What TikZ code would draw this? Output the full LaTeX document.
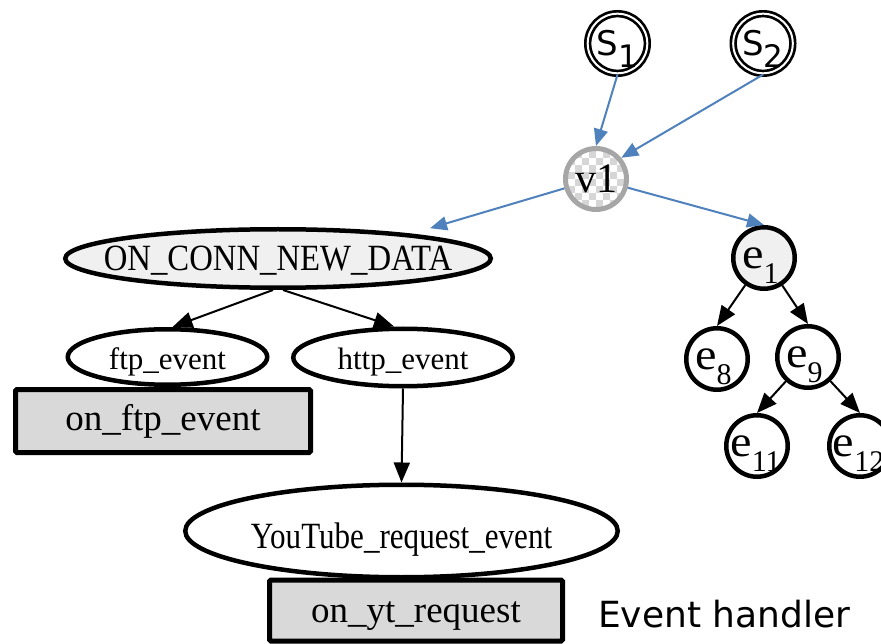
\documentclass[tikz,border=0pt]{standalone}
\usepackage{fontspec}
\setmainfont{Liberation Serif}
\newfontfamily\labelsans{DejaVu Sans}
\usepackage{graphicx}
\usetikzlibrary{arrows.meta,shapes.geometric}

\definecolor{linkblue}{HTML}{4F81BD}
\definecolor{lightfill}{HTML}{F0F0F0}
\definecolor{handlerfill}{HTML}{D9D9D9}
\definecolor{ringgray}{HTML}{A6A6A6}
\definecolor{checkgray}{HTML}{D6D6D6}

% event-tree labels: "e" with a lowered index
\newcommand\evlabel[2][7pt]{\scalebox{1.1}[1]{e}\smash{\raisebox{-15pt}{\fontsize{30}{30}\selectfont #2}}\kern#1}
% source labels: sans "S" with a lowered index
\newcommand\srclabel[1]{{\labelsans\fontsize{34}{34}\selectfont S}\smash{\raisebox{-12pt}{\labelsans\fontsize{31}{31}\selectfont #1}}}

\tikzset{
  evnode/.style={circle, draw=black, line width=4.5pt, fill=white,
    minimum size=61.5pt, inner sep=0pt, font=\fontsize{44}{44}\selectfont},
  srcnode/.style={circle, draw=black, line width=2.7pt, double=white,
    double distance=2pt, minimum size=59.6pt, inner sep=0pt},
  evtnode/.style={ellipse, draw=black, line width=4.5pt, fill=white,
    inner sep=0pt, text depth=0pt},
  handlerbox/.style={rectangle, draw=black, line width=5pt, fill=handlerfill,
    rounded corners=1.5pt, inner sep=0pt, text depth=0pt,
    font=\fontsize{37}{37}\selectfont},
  blueedge/.style={draw=linkblue, line width=2pt,
    -{Triangle[length=17pt,width=14pt]}},
  blackedge/.style={draw=black, line width=2pt,
    -{Triangle[length=20pt,width=16pt]}},
}

\begin{document}
\begin{tikzpicture}[x=1pt,y=-1pt]
\useasboundingbox (0,0) rectangle (881,644);

% sources
\node[srcnode] (s1) at (617.5,43.5) {\srclabel{1}};
\node[srcnode] (s2) at (763,43.5) {\srclabel{2}};

% virtual node with checkered fill
\node[circle, draw=ringgray, line width=5pt, minimum size=61pt, inner sep=0pt,
  font=\fontsize{42}{42}\selectfont,
  path picture={
    \foreach \i in {-5,...,4}{
      \foreach \j in {-5,...,4}{
        \pgfmathtruncatemacro\chk{mod(\i+\j+20,2)}
        \ifnum\chk=0
          \fill[checkgray] ([shift={(\i*7pt,\j*7pt)}]path picture bounding box.center)
            rectangle ++(7pt,7pt);
        \fi
      }}
  }] (v1) at (596,179) {v1};

% protocol event ellipses
\node[evtnode, fill=lightfill, minimum width=425.5pt, minimum height=58.5pt,
  text height=24.5pt, font=\fontsize{37}{37}\selectfont]
  (conn) at (278,258.5) {\makebox[0pt]{\scalebox{0.885}[1]{ON\_CONN\_NEW\_DATA}}};
\node[evtnode, minimum width=199.5pt, minimum height=55.5pt,
  text height=26pt, font=\fontsize{31}{31}\selectfont]
  (ftp) at (167.5,357) {\makebox[0pt]{ftp\_event}};
\node[evtnode, minimum width=219.5pt, minimum height=57.5pt,
  text height=25pt, font=\fontsize{31}{31}\selectfont]
  (http) at (403,357.5) {\makebox[0pt]{http\_event}};
\node[evtnode, minimum width=432.5pt, minimum height=92.5pt,
  text height=34pt, font=\fontsize{37}{37}\selectfont]
  (yt) at (401.5,531) {\makebox[0pt]{\scalebox{0.84}[1]{YouTube\_request\_event}}};

% handlers
\node[handlerbox, minimum width=295pt, minimum height=63pt, text height=18pt]
  (onftp) at (163,421) {on\_ftp\_event};
\node[handlerbox, minimum width=293pt, minimum height=61pt, text height=24pt]
  (onyt) at (416,610.5) {on\_yt\_request};
\node[anchor=base west, inner sep=0pt, font=\labelsans\fontsize{36}{36}\selectfont]
  (handlertag) at (598,627) {Event handler};

% event tree
\node[evnode, fill=lightfill] (e1) at (764,258) {\evlabel{1}};
\node[evnode] (e8) at (717,359) {\evlabel{8}};
\node[evnode] (e9) at (808,357) {\evlabel{9}};
\node[evnode] (e11) at (757,446) {\evlabel[3pt]{11}};
\node[evnode] (e12) at (860,446) {\evlabel[3pt]{12}};

% connectors
\draw[blueedge] (s1.south) -- (v1.north);
\draw[blueedge] (s2.south) -- (v1.40);
\draw[blueedge] (v1) -- ([yshift=8pt]conn.north east);
\draw[blueedge] (v1) -- (e1.north);

\draw[blackedge] ([xshift=-5pt]conn.south) -- ([xshift=5pt]ftp.north);
\draw[blackedge] ([xshift=5pt]conn.south) -- ([xshift=-9pt]http.north);
\draw[blackedge] (http.south) -- (yt.north);

\draw[blackedge] (e1) -- (e8.north);
\draw[blackedge] (e1) -- (e9.north);
\draw[blackedge] (e9) -- (e11.north);
\draw[blackedge] (e9) -- (e12.north);
\end{tikzpicture}
\end{document}
